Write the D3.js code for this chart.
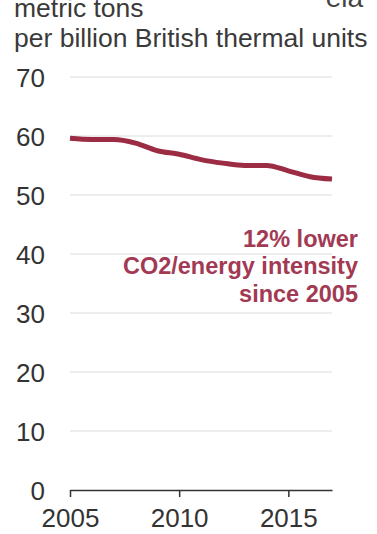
<!DOCTYPE html>
<html>
<head>
<meta charset="utf-8">
<script src="https://cdn.jsdelivr.net/npm/d3@7"></script>
<style>
  html, body { margin: 0; padding: 0; background: #fff; }
  svg { display: block; }
  text { font-family: "Liberation Sans", Arial, sans-serif; }
</style>
</head>
<body>
<script>
// CO2 emissions per unit of energy consumed, 2005-2017
const years = [2005, 2006, 2007, 2008, 2009, 2010, 2011, 2012, 2013, 2014, 2015, 2016, 2017];
const intensity = [59.6, 59.4, 59.4, 58.8, 57.5, 56.9, 56.0, 55.4, 55.0, 55.0, 54.1, 53.1, 52.7];
const yTicks = [0, 10, 20, 30, 40, 50, 60, 70];
const xTicks = [2005, 2010, 2015];
const unitLines = ["metric tons", "per billion British thermal units"];
const noteLines = ["12% lower", "CO2/energy intensity", "since 2005"];

const W = 377, H = 534;
const svg = d3.select("body").append("svg").attr("width", W).attr("height", H);

const x = d3.scaleLinear().domain([2005, 2017]).range([70, 332]);
const y = d3.scaleLinear().domain([0, 70]).range([490, 77]);

// unit label
svg.append("g").selectAll("text").data(unitLines).join("text")
  .attr("x", 14).attr("y", (d, i) => 17 + i * 30)
  .attr("font-size", 26.5).attr("fill", "#3a3a3a")
  .text(d => d);

// agency mark along the top edge
svg.append("text").attr("x", 363).attr("y", 7).attr("text-anchor", "end")
  .attr("font-family", "'Liberation Serif', serif").attr("font-size", 28)
  .attr("fill", "#444").text("eia");

// gridlines and y labels
const yAxis = d3.axisLeft(y).tickValues(yTicks).tickSize(0).tickPadding(0);
const gy = svg.append("g").attr("transform", "translate(45,0)").call(yAxis);
gy.select(".domain").remove();
gy.selectAll("text").attr("font-size", 26).attr("fill", "#333")
  .attr("font-family", "'Liberation Sans', Arial, sans-serif").attr("dy", "0.35em");

svg.append("g").selectAll("line").data(yTicks.filter(d => d > 0)).join("line")
  .attr("x1", x.range()[0]).attr("x2", x.range()[1])
  .attr("y1", d => y(d)).attr("y2", d => y(d))
  .attr("stroke", "#dcdcdc").attr("stroke-width", 1.2);

// x axis
const xAxis = d3.axisBottom(x).tickValues(xTicks).tickFormat(d3.format("d"))
  .tickSize(7).tickSizeOuter(0).tickPadding(12);
const gx = svg.append("g").attr("transform", `translate(0,${y(0)})`).call(xAxis);
gx.select(".domain").attr("stroke", "#333").attr("stroke-width", 1.5);
gx.selectAll(".tick line").attr("stroke", "#333").attr("stroke-width", 1.5);
gx.selectAll("text").attr("font-size", 26).attr("fill", "#333")
  .attr("font-family", "'Liberation Sans', Arial, sans-serif");

// intensity line
const line = d3.line().x((d, i) => x(years[i])).y(d => y(d)).curve(d3.curveMonotoneX);
svg.append("path").datum(intensity)
  .attr("d", line).attr("fill", "none")
  .attr("stroke", "#9b2c43").attr("stroke-width", 5)
  .attr("stroke-linejoin", "round").attr("stroke-linecap", "butt");

// annotation
svg.append("g").selectAll("text").data(noteLines).join("text")
  .attr("x", 358).attr("y", (d, i) => 247 + i * 27.3)
  .attr("text-anchor", "end").attr("font-size", 23.5).attr("font-weight", "bold")
  .attr("fill", "#a23a54").text(d => d);
</script>
</body>
</html>
